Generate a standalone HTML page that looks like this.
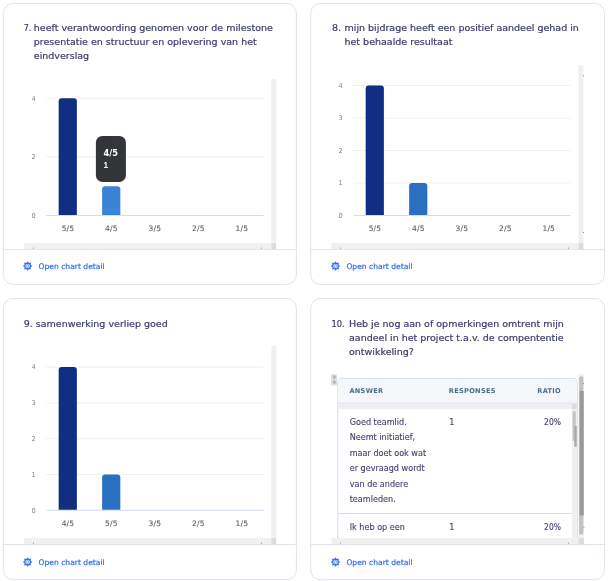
<!DOCTYPE html>
<html lang="nl">
<head>
<meta charset="utf-8">
<title>Survey results</title>
<style>
html,body{margin:0;padding:0;background:#fff;}
body{width:609px;height:581px;overflow:hidden;font-family:"DejaVu Sans", "Liberation Sans", sans-serif;}
svg{display:block;will-change:transform;}
text{font-family:"DejaVu Sans", "Liberation Sans", sans-serif;}
.t{font-size:9.5px;fill:#40406f;stroke:#40406f;stroke-width:0.22px;}
.lk{font-size:7.6px;fill:#2e6df0;stroke:#2e6df0;stroke-width:0.18px;}
.xa{font-size:7.5px;fill:#5c5f66;text-anchor:middle;letter-spacing:0.2px;stroke:#5c5f66;stroke-width:0.1px;}
.ya{font-size:6.6px;fill:#848484;text-anchor:end;}
.tt1{font-size:8.3px;font-weight:bold;fill:#fff;}
.tt2{font-size:7.6px;font-weight:bold;fill:#f2f2f2;}
.th{font-size:6.6px;font-weight:bold;fill:#4a6b90;letter-spacing:0.3px;}
.td{font-size:8.1px;fill:#43436c;stroke:#43436c;stroke-width:0.12px;}
</style>
</head>
<body>
<svg width="609" height="581" viewBox="0 0 609 581">
<rect x="3.40" y="3.50" width="293.0" height="280.9" rx="9.8" ry="9.8" fill="#fff" stroke="#e1e2ea" stroke-width="1"/>
<text x="23.70" y="30.80" class="t" textLength="7.6" lengthAdjust="spacingAndGlyphs">7.</text>
<text x="33.80" y="30.80" class="t">heeft verantwoording genomen voor de milestone</text>
<text x="33.80" y="44.70" class="t">presentatie en structuur en oplevering van het</text>
<text x="33.80" y="58.60" class="t">eindverslag</text>
<rect x="271.30" y="79.00" width="5.0" height="164.10" fill="#f0f0f0"/>
<rect x="24.25" y="243.10" width="247.05" height="6.5" fill="#f0f0f0"/>
<rect x="271.30" y="243.10" width="5.0" height="6.5" fill="#dcdcdc"/>
<rect x="33.00" y="247.70" width="0.7" height="0.9" fill="#555"/>
<rect x="261.00" y="247.70" width="0.7" height="0.9" fill="#555"/>
<line x1="46.25" x2="263.50" y1="215.50" y2="215.50" stroke="#d3dbf3" stroke-width="1"/>
<text x="35.80" y="217.70" class="ya">0</text>
<line x1="46.25" x2="263.50" y1="156.90" y2="156.90" stroke="#efefef" stroke-width="1"/>
<text x="35.80" y="159.10" class="ya">2</text>
<line x1="46.25" x2="263.50" y1="98.30" y2="98.30" stroke="#efefef" stroke-width="1"/>
<text x="35.80" y="100.50" class="ya">4</text>
<text x="67.97" y="230.70" class="xa">5/5</text>
<path d="M58.67 215.00V101.30Q58.67 98.30 61.67 98.30H73.87Q76.87 98.30 76.87 101.30V215.00Z" fill="#112e82"/>
<text x="111.43" y="230.70" class="xa">4/5</text>
<path d="M102.13 215.00V189.20Q102.13 186.20 105.13 186.20H117.33Q120.33 186.20 120.33 189.20V215.00Z" fill="#3a84d6"/>
<text x="154.88" y="230.70" class="xa">3/5</text>
<text x="198.33" y="230.70" class="xa">2/5</text>
<text x="241.78" y="230.70" class="xa">1/5</text>
<rect x="95.9" y="135.9" width="30" height="46.1" rx="6.6" fill="#343538"/>
<text x="103.5" y="156.1" class="tt1">4/5</text>
<text x="103.4" y="167.9" class="tt2" style="font-family:'Liberation Sans',sans-serif;font-size:8.4px">1</text>
<line x1="3.40" x2="296.40" y1="249.60" y2="249.60" stroke="#e1e2ea" stroke-width="1"/>
<g transform="translate(27.60,266.00)"><g fill="#2e6df0"><circle cx="3.75" cy="0.00" r="0.75"/><circle cx="2.65" cy="2.65" r="0.75"/><circle cx="0.00" cy="3.75" r="0.75"/><circle cx="-2.65" cy="2.65" r="0.75"/><circle cx="-3.75" cy="0.00" r="0.75"/><circle cx="-2.65" cy="-2.65" r="0.75"/><circle cx="-0.00" cy="-3.75" r="0.75"/><circle cx="2.65" cy="-2.65" r="0.75"/></g><circle r="2.9" fill="#c4d6fb" stroke="#2e6df0" stroke-width="1.05"/><ellipse rx="0.85" ry="1.9" fill="#ffffff" stroke="#2e6df0" stroke-width="0.45"/><circle cy="-2.3" r="0.6" fill="#2e6df0"/><circle cy="2.3" r="0.6" fill="#2e6df0"/></g>
<text x="38.50" y="268.70" class="lk">Open chart detail</text>
<rect x="310.70" y="3.50" width="293.8" height="280.9" rx="9.8" ry="9.8" fill="#fff" stroke="#e1e2ea" stroke-width="1"/>
<text x="332.00" y="30.60" class="t">8.</text>
<text x="344.50" y="30.60" class="t">mijn bijdrage heeft een positief aandeel gehad in</text>
<text x="344.50" y="44.50" class="t">het behaalde resultaat</text>
<rect x="578.40" y="65.00" width="5.0" height="178.10" fill="#f0f0f0"/>
<rect x="331.35" y="243.10" width="247.05" height="6.5" fill="#f0f0f0"/>
<rect x="578.40" y="243.10" width="5.0" height="6.5" fill="#dcdcdc"/>
<rect x="340.10" y="247.70" width="0.7" height="0.9" fill="#555"/>
<rect x="568.10" y="247.70" width="0.7" height="0.9" fill="#555"/>
<line x1="353.25" x2="570.50" y1="215.50" y2="215.50" stroke="#d3dbf3" stroke-width="1"/>
<text x="342.80" y="217.70" class="ya">0</text>
<line x1="353.25" x2="570.50" y1="183.00" y2="183.00" stroke="#efefef" stroke-width="1"/>
<text x="342.80" y="185.20" class="ya">1</text>
<line x1="353.25" x2="570.50" y1="150.50" y2="150.50" stroke="#efefef" stroke-width="1"/>
<text x="342.80" y="152.70" class="ya">2</text>
<line x1="353.25" x2="570.50" y1="118.00" y2="118.00" stroke="#efefef" stroke-width="1"/>
<text x="342.80" y="120.20" class="ya">3</text>
<line x1="353.25" x2="570.50" y1="85.50" y2="85.50" stroke="#efefef" stroke-width="1"/>
<text x="342.80" y="87.70" class="ya">4</text>
<text x="374.98" y="230.70" class="xa">5/5</text>
<path d="M365.68 215.00V88.50Q365.68 85.50 368.68 85.50H380.88Q383.88 85.50 383.88 88.50V215.00Z" fill="#112e82"/>
<text x="418.43" y="230.70" class="xa">4/5</text>
<path d="M409.13 215.00V186.00Q409.13 183.00 412.13 183.00H424.33Q427.33 183.00 427.33 186.00V215.00Z" fill="#2a70c2"/>
<text x="461.88" y="230.70" class="xa">3/5</text>
<text x="505.33" y="230.70" class="xa">2/5</text>
<text x="548.77" y="230.70" class="xa">1/5</text>
<rect x="583.2" y="232.1" width="0.7" height="0.9" fill="#555"/>
<rect x="583.2" y="75.3" width="0.7" height="0.9" fill="#555"/>
<line x1="310.70" x2="604.50" y1="249.60" y2="249.60" stroke="#e1e2ea" stroke-width="1"/>
<g transform="translate(335.50,266.00)"><g fill="#2e6df0"><circle cx="3.75" cy="0.00" r="0.75"/><circle cx="2.65" cy="2.65" r="0.75"/><circle cx="0.00" cy="3.75" r="0.75"/><circle cx="-2.65" cy="2.65" r="0.75"/><circle cx="-3.75" cy="0.00" r="0.75"/><circle cx="-2.65" cy="-2.65" r="0.75"/><circle cx="-0.00" cy="-3.75" r="0.75"/><circle cx="2.65" cy="-2.65" r="0.75"/></g><circle r="2.9" fill="#c4d6fb" stroke="#2e6df0" stroke-width="1.05"/><ellipse rx="0.85" ry="1.9" fill="#ffffff" stroke="#2e6df0" stroke-width="0.45"/><circle cy="-2.3" r="0.6" fill="#2e6df0"/><circle cy="2.3" r="0.6" fill="#2e6df0"/></g>
<text x="346.40" y="268.70" class="lk">Open chart detail</text>
<rect x="3.40" y="298.45" width="293.0" height="281.3" rx="9.8" ry="9.8" fill="#fff" stroke="#e1e2ea" stroke-width="1"/>
<text x="23.80" y="327.00" class="t">9.</text>
<text x="35.80" y="327.00" class="t">samenwerking verliep goed</text>
<rect x="271.30" y="346.00" width="5.0" height="192.10" fill="#f0f0f0"/>
<rect x="24.25" y="538.10" width="247.05" height="6.5" fill="#f0f0f0"/>
<rect x="271.30" y="538.10" width="5.0" height="6.5" fill="#dcdcdc"/>
<rect x="33.00" y="542.70" width="0.7" height="0.9" fill="#555"/>
<rect x="261.00" y="542.70" width="0.7" height="0.9" fill="#555"/>
<line x1="46.25" x2="263.50" y1="510.30" y2="510.30" stroke="#d3dbf3" stroke-width="1"/>
<text x="35.80" y="512.50" class="ya">0</text>
<line x1="46.25" x2="263.50" y1="474.50" y2="474.50" stroke="#efefef" stroke-width="1"/>
<text x="35.80" y="476.70" class="ya">1</text>
<line x1="46.25" x2="263.50" y1="438.70" y2="438.70" stroke="#efefef" stroke-width="1"/>
<text x="35.80" y="440.90" class="ya">2</text>
<line x1="46.25" x2="263.50" y1="402.90" y2="402.90" stroke="#efefef" stroke-width="1"/>
<text x="35.80" y="405.10" class="ya">3</text>
<line x1="46.25" x2="263.50" y1="367.10" y2="367.10" stroke="#efefef" stroke-width="1"/>
<text x="35.80" y="369.30" class="ya">4</text>
<text x="67.97" y="525.50" class="xa">4/5</text>
<path d="M58.67 509.80V370.10Q58.67 367.10 61.67 367.10H73.87Q76.87 367.10 76.87 370.10V509.80Z" fill="#112e82"/>
<text x="111.43" y="525.50" class="xa">5/5</text>
<path d="M102.13 509.80V477.50Q102.13 474.50 105.13 474.50H117.33Q120.33 474.50 120.33 477.50V509.80Z" fill="#2a70c2"/>
<text x="154.88" y="525.50" class="xa">3/5</text>
<text x="198.33" y="525.50" class="xa">2/5</text>
<text x="241.78" y="525.50" class="xa">1/5</text>
<line x1="3.40" x2="296.40" y1="544.60" y2="544.60" stroke="#e1e2ea" stroke-width="1"/>
<g transform="translate(27.60,562.00)"><g fill="#2e6df0"><circle cx="3.75" cy="0.00" r="0.75"/><circle cx="2.65" cy="2.65" r="0.75"/><circle cx="0.00" cy="3.75" r="0.75"/><circle cx="-2.65" cy="2.65" r="0.75"/><circle cx="-3.75" cy="0.00" r="0.75"/><circle cx="-2.65" cy="-2.65" r="0.75"/><circle cx="-0.00" cy="-3.75" r="0.75"/><circle cx="2.65" cy="-2.65" r="0.75"/></g><circle r="2.9" fill="#c4d6fb" stroke="#2e6df0" stroke-width="1.05"/><ellipse rx="0.85" ry="1.9" fill="#ffffff" stroke="#2e6df0" stroke-width="0.45"/><circle cy="-2.3" r="0.6" fill="#2e6df0"/><circle cy="2.3" r="0.6" fill="#2e6df0"/></g>
<text x="38.50" y="564.70" class="lk">Open chart detail</text>
<rect x="310.70" y="298.45" width="293.8" height="281.3" rx="9.8" ry="9.8" fill="#fff" stroke="#e1e2ea" stroke-width="1"/>
<text x="331.40" y="327.00" class="t" textLength="13.2" lengthAdjust="spacingAndGlyphs">10.</text>
<text x="349.00" y="327.00" class="t">Heb je nog aan of opmerkingen omtrent mijn</text>
<text x="349.00" y="340.90" class="t">aandeel in het project t.a.v. de compententie</text>
<text x="349.00" y="354.80" class="t">ontwikkeling?</text>
<rect x="578.50" y="374.5" width="5.5" height="163.60" fill="#f0f0f0"/>
<rect x="331.35" y="538.10" width="247.15" height="6.5" fill="#f0f0f0"/>
<rect x="578.50" y="538.10" width="5.5" height="6.5" fill="#dcdcdc"/>
<rect x="340.10" y="542.70" width="0.7" height="0.9" fill="#555"/>
<rect x="568.10" y="542.70" width="0.7" height="0.9" fill="#555"/>
<rect x="331" y="374.2" width="6" height="11.2" rx="0.8" fill="#dfdfdf"/>
<ellipse cx="334.4" cy="377.1" rx="1.35" ry="1.9" fill="#b2b2b2"/><ellipse cx="334.4" cy="382.1" rx="1.35" ry="1.9" fill="#b2b2b2"/>
<path d="M337.8 538.1V381.6Q337.8 378.6 340.8 378.6H574.3Q577.3 378.6 577.3 381.6V538.1" fill="#fff" stroke="#d3dff6" stroke-width="1"/>
<path d="M338.3 403V381.6Q338.3 379.1 340.8 379.1H574.3Q576.8 379.1 576.8 381.6V403Z" fill="#f5f7fb"/>
<line x1="337.8" x2="577.3" y1="403.2" y2="403.2" stroke="#d3dff6" stroke-width="1"/>
<rect x="338.3" y="403.7" width="238.5" height="5.5" fill="#efefef"/>
<rect x="572" y="403.7" width="4.8" height="5.5" fill="#dddddd"/>
<rect x="572" y="409.1" width="4.8" height="129" fill="#f0f0f0"/>
<rect x="572.5" y="411" width="3.3" height="30" rx="1.6" fill="#c6c6c6"/>
<rect x="574.3" y="426" width="2.4" height="20.7" fill="#a8a8a8"/>
<rect x="579.1" y="376.2" width="4.2" height="158.5" rx="2" fill="#c2c2c2"/>
<rect x="579.7" y="391" width="4" height="124.5" fill="#999999"/>
<rect x="583.3" y="383.3" width="0.7" height="0.9" fill="#555"/>
<rect x="583.6" y="526.8" width="0.7" height="0.9" fill="#555"/>
<text x="349.4" y="393.0" class="th">ANSWER</text>
<text x="448.8" y="393.0" class="th">RESPONSES</text>
<text x="537.3" y="393.0" class="th">RATIO</text>
<text x="349.7" y="424.60" class="td">Goed teamlid.</text>
<text x="349.7" y="440.10" class="td">Neemt initiatief,</text>
<text x="349.7" y="455.60" class="td">maar doet ook wat</text>
<text x="349.7" y="471.10" class="td">er gevraagd wordt</text>
<text x="349.7" y="486.60" class="td">van de andere</text>
<text x="349.7" y="502.10" class="td">teamleden.</text>
<text x="449.3" y="424.6" class="td">1</text>
<text x="561" y="424.6" class="td" textLength="16.9" lengthAdjust="spacingAndGlyphs" text-anchor="end">20%</text>
<line x1="338.3" x2="572" y1="513.5" y2="513.5" stroke="#d3dff6" stroke-width="1"/>
<text x="349.7" y="529.6" class="td">Ik heb op een</text>
<text x="449.3" y="529.6" class="td">1</text>
<text x="561" y="529.6" class="td" textLength="16.9" lengthAdjust="spacingAndGlyphs" text-anchor="end">20%</text>
<line x1="310.70" x2="604.50" y1="544.60" y2="544.60" stroke="#e1e2ea" stroke-width="1"/>
<g transform="translate(335.50,562.00)"><g fill="#2e6df0"><circle cx="3.75" cy="0.00" r="0.75"/><circle cx="2.65" cy="2.65" r="0.75"/><circle cx="0.00" cy="3.75" r="0.75"/><circle cx="-2.65" cy="2.65" r="0.75"/><circle cx="-3.75" cy="0.00" r="0.75"/><circle cx="-2.65" cy="-2.65" r="0.75"/><circle cx="-0.00" cy="-3.75" r="0.75"/><circle cx="2.65" cy="-2.65" r="0.75"/></g><circle r="2.9" fill="#c4d6fb" stroke="#2e6df0" stroke-width="1.05"/><ellipse rx="0.85" ry="1.9" fill="#ffffff" stroke="#2e6df0" stroke-width="0.45"/><circle cy="-2.3" r="0.6" fill="#2e6df0"/><circle cy="2.3" r="0.6" fill="#2e6df0"/></g>
<text x="346.40" y="564.70" class="lk">Open chart detail</text>
</svg>
</body>
</html>
